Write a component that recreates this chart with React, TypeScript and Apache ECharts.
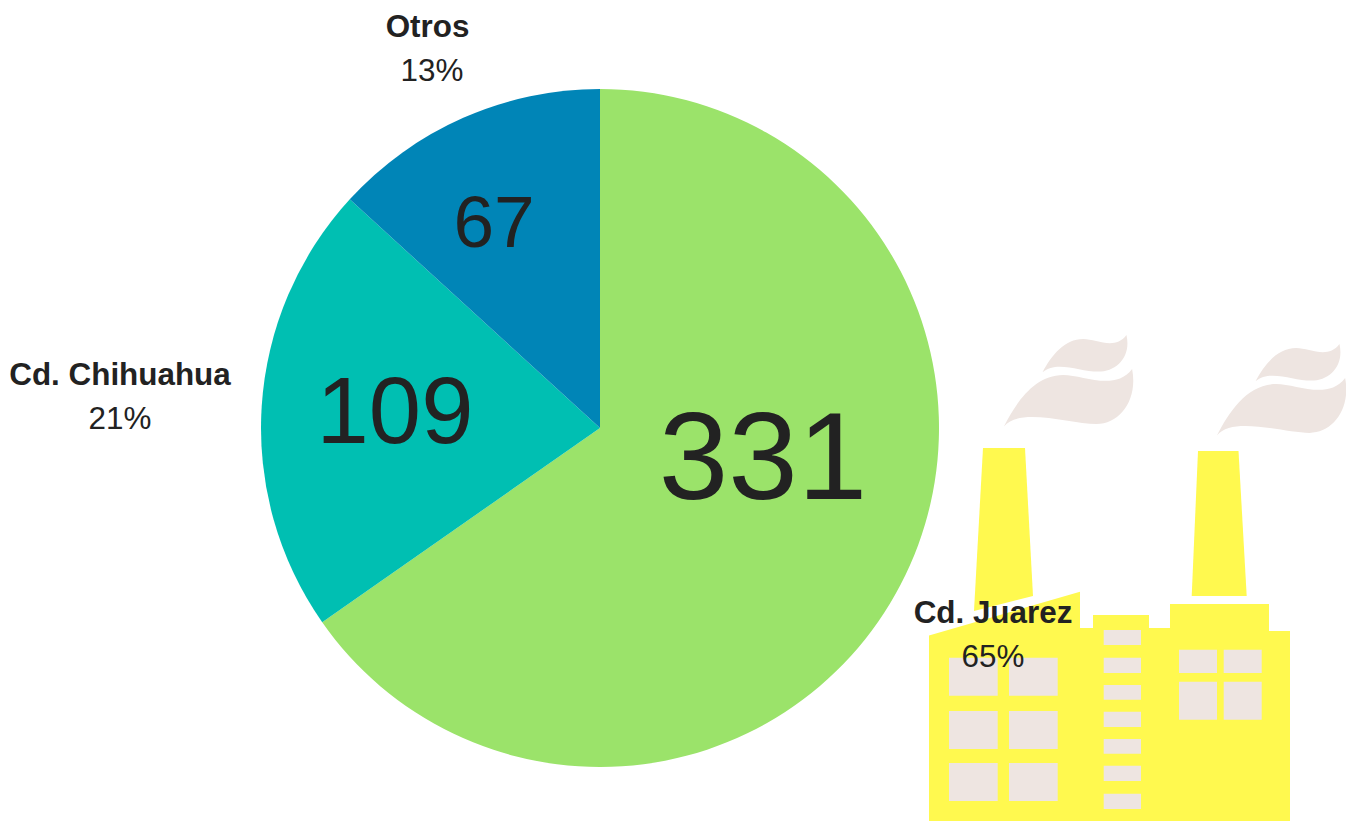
import React, { useEffect, useRef } from "react";
import * as echarts from "echarts";

const names = ["Cd. Juarez", "Cd. Chihuahua", "Otros"];
const values = [331, 109, 67];
const percentLabels = ["65%", "21%", "13%"];
const colors = ["#9BE36A", "#00BFB2", "#0085B7"];
const valueFontSizes = [125, 94, 73];
const valueCenters = [[763, 455], [395, 410], [494, 221]];
const nameCenters = [[993, 634], [120, 396], [430, 48]];
// horizontal nudge of each label's two lines, so that they sit as in the picture
const nameNudge = [0, 0, 5];
const percentNudge = [0, 0, 4];

const YELLOW = "#FFF94F";
const WINDOW = "#EEE5E1";
const FONT = "'Liberation Sans', Arial, sans-serif";
const SMOKE =
  "M368 157C395 105 435 57 490 57C530 57 585 92 620 45C635 110 590 155 535 155C480 155 410 120 368 157Z" +
  "M252 320C290 245 345 165 430 165C490 165 585 215 637 147C655 240 600 312 530 312C450 312 300 260 252 320Z";

const chimneys = [
  [[983, 448], [1025, 448], [1033, 596], [974, 611]],
  [[1198, 451], [1238.5, 451], [1246.7, 596], [1191.7, 596]],
];
const building = [
  [929, 821], [929, 635.5], [1080, 591.7], [1080, 628], [1093, 628], [1093, 615], [1149, 615], [1149, 628],
  [1170, 628], [1170, 604], [1269, 604], [1269, 631], [1290, 631], [1290, 821],
];
// x, y, width, height
const windows = [
  [949, 657.7, 48.7, 38], [1009, 657.7, 48.7, 38],
  [949, 711, 48.7, 38], [1009, 711, 48.7, 38],
  [949, 763, 48.7, 38], [1009, 763, 48.7, 38],
  [1103.7, 630, 37.3, 15], [1103.7, 657.7, 37.3, 15.3], [1103.7, 685, 37.3, 14.7], [1103.7, 711.7, 37.3, 15.3],
  [1103.7, 739, 37.3, 14.7], [1103.7, 765.7, 37.3, 15.3], [1103.7, 793.7, 37.3, 15.3],
  [1179, 649.7, 38, 23.3], [1223.7, 649.7, 38, 23.3],
  [1179, 681.7, 38, 38], [1223.7, 681.7, 38, 38],
];

export default function App() {
  const ref = useRef<HTMLDivElement>(null);
  useEffect(() => {
    document.body.style.margin = "0";
    document.body.style.overflow = "hidden";
    const chart = echarts.init(ref.current!, undefined, { renderer: "svg" });
    echarts.graphic.registerShape("smoke", echarts.graphic.extendPath(SMOKE, {}) as any);
    const center = [600, 428];
    const radius = 339;
    chart.setOption({
      animation: false,
      backgroundColor: "#FFFFFF",
      tooltip: { show: false },
      graphic: {
        elements: [
          { type: "smoke", x: 920, y: 320, scaleX: 1 / 3, scaleY: 1 / 3, z: 0, silent: true, style: { fill: WINDOW } },
          { type: "smoke", x: 1133, y: 329, scaleX: 1 / 3, scaleY: 1 / 3, z: 0, silent: true, style: { fill: WINDOW } },
          ...chimneys.map((points) => ({ type: "polygon", z: 0, silent: true, shape: { points }, style: { fill: YELLOW } })),
          { type: "polygon", z: 0, silent: true, shape: { points: building }, style: { fill: YELLOW } },
          ...windows.map(([x, y, width, height]) => ({
            type: "rect", z: 0, silent: true, shape: { x, y, width, height }, style: { fill: WINDOW },
          })),
        ],
      },
      series: [
        {
          type: "pie",
          center,
          radius,
          startAngle: 90,
          clockwise: true,
          silent: true,
          itemStyle: { borderWidth: 0 },
          labelLine: { show: false },
          data: names.map((name, i) => ({
            name,
            value: values[i],
            itemStyle: { color: colors[i] },
            label: {
              show: true,
              position: "inside",
              formatter: "{c}",
              color: "#222222",
              fontFamily: FONT,
              fontSize: valueFontSizes[i],
            },
          })),
          labelLayout: (p: any) => ({
            x: valueCenters[p.dataIndex][0],
            y: valueCenters[p.dataIndex][1],
            align: "center",
            verticalAlign: "middle",
          }),
        },
        {
          type: "pie",
          center,
          radius,
          startAngle: 90,
          clockwise: true,
          silent: true,
          itemStyle: { color: "transparent", borderWidth: 0 },
          labelLine: { show: false },
          data: names.map((name, i) => ({
            name,
            value: values[i],
            label: {
              show: true,
              position: "inside",
              overflow: "none",
              formatter: `{b|${name}}\n{p|${percentLabels[i]}}`,
              rich: {
                b: {
                  fontFamily: FONT, fontWeight: "bold", fontSize: 31.4, lineHeight: 44, color: "#222222",
                  align: "center", padding: [0, nameNudge[i], 0, 0],
                },
                p: {
                  fontFamily: FONT, fontSize: 31.4, lineHeight: 44, color: "#222222",
                  align: "center", padding: [0, 0, 0, percentNudge[i]],
                },
              },
            },
          })),
          labelLayout: (p: any) => ({
            x: nameCenters[p.dataIndex][0],
            y: nameCenters[p.dataIndex][1],
            align: "center",
            verticalAlign: "middle",
          }),
        },
      ],
    });
    return () => chart.dispose();
  }, []);
  return <div ref={ref} style={{ width: 1346, height: 821 }} />;
}
